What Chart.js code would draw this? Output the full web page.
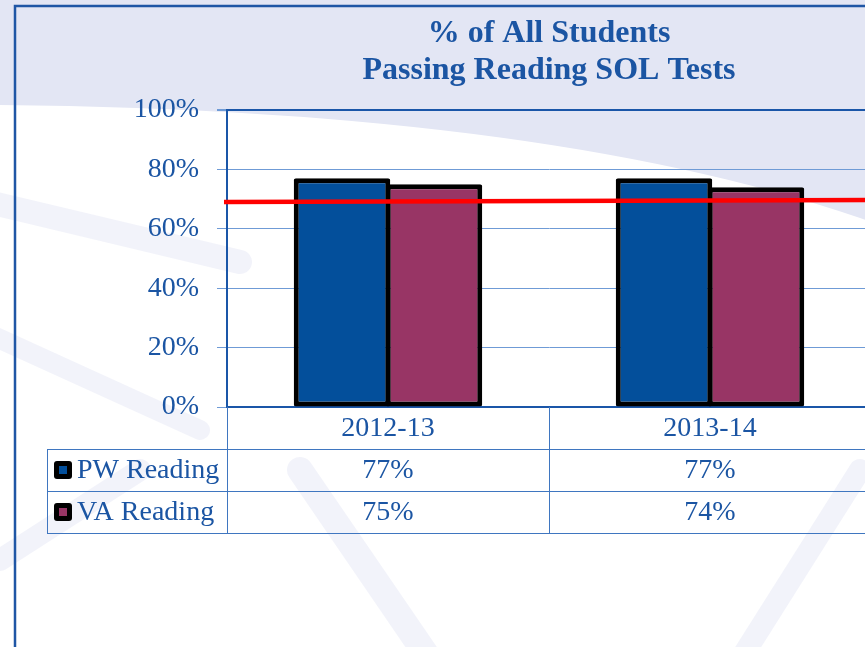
<!DOCTYPE html>
<html>
<head>
<meta charset="utf-8">
<script src="https://cdn.jsdelivr.net/npm/chart.js@4/dist/chart.umd.min.js"></script>
<style>
  html, body { margin: 0; padding: 0; overflow: hidden; background: #fff; }
  #wrap { width: 880px; height: 647px; }
</style>
</head>
<body>
<div id="wrap"><canvas id="chart" width="880" height="647"></canvas></div>
<script>
// 資料
const years = ["2012-13", "2013-14"];
const pwReading = [77, 77];
const vaReading = [75, 74];
const goalLine = [69, 69.7]; // 紅線：左端、右端
const yTicks = [0, 20, 40, 60, 80, 100];
const titleLines = ["% of All Students", "Passing Reading SOL Tests"];

const serif = "'Liberation Serif', 'Times New Roman', serif";
const textBlue = "#1b55a3";
const axisBlue = "#1a56a8";
const gridBlue = "#6f9bd6";
const tableBlue = "#3f76c0";
const barColors = ["#034f9b", "#983565"];

// 背景與外框
const backdrop = {
  id: "backdrop",
  beforeDraw(chart) {
    const { ctx, width, height } = chart;
    ctx.save();
    ctx.fillStyle = "#ffffff";
    ctx.fillRect(0, 0, width, height);

    ctx.fillStyle = "#e3e6f4";
    ctx.beginPath();
    ctx.moveTo(0, 0);
    ctx.lineTo(width, 0);
    ctx.lineTo(width, 225);
    ctx.quadraticCurveTo(560, 110, 0, 105);
    ctx.closePath();
    ctx.fill();

    ctx.strokeStyle = "rgba(226, 229, 243, 0.45)";
    ctx.lineCap = "round";
    const bands = [
      [[-20, 200], [240, 262], 24],
      [[-20, 330], [200, 430], 20],
      [[0, 560], [140, 470], 22],
      [[300, 470], [430, 660], 26],
      [[860, 470], [740, 660], 22],
    ];
    bands.forEach(([a, b, w]) => {
      ctx.lineWidth = w;
      ctx.beginPath();
      ctx.moveTo(a[0], a[1]);
      ctx.lineTo(b[0], b[1]);
      ctx.stroke();
    });

    ctx.strokeStyle = "#1f56a5";
    ctx.lineWidth = 2.5;
    ctx.beginPath();
    ctx.moveTo(15, height);
    ctx.lineTo(15, 6);
    ctx.lineTo(width, 6);
    ctx.stroke();
    ctx.restore();
  },
};

// 紅色目標線
const goal = {
  id: "goal",
  afterDatasetsDraw(chart) {
    const { ctx, chartArea, scales } = chart;
    ctx.save();
    ctx.strokeStyle = "#ff0000";
    ctx.lineWidth = 4.5;
    ctx.beginPath();
    ctx.moveTo(chartArea.left - 3, scales.y.getPixelForValue(goalLine[0]));
    ctx.lineTo(chartArea.right, scales.y.getPixelForValue(goalLine[1]));
    ctx.stroke();
    ctx.restore();
  },
};

// 資料表
const dataTable = {
  id: "dataTable",
  afterDraw(chart) {
    const { ctx, chartArea, scales } = chart;
    const x = scales.x;
    const rowH = 42;
    const top = chartArea.bottom + rowH;
    const sets = chart.data.datasets;
    const bottom = top + rowH * sets.length;
    const tableLeft = 47;

    ctx.save();
    ctx.strokeStyle = tableBlue;
    ctx.lineWidth = 1;
    ctx.beginPath();
    for (let r = 0; r <= sets.length; r++) {
      const y = Math.round(top + r * rowH) + 0.5;
      ctx.moveTo(tableLeft, y);
      ctx.lineTo(chartArea.right, y);
    }
    ctx.moveTo(tableLeft + 0.5, top);
    ctx.lineTo(tableLeft + 0.5, bottom);
    const bounds = [chartArea.left];
    for (let j = 1; j < years.length; j++) {
      bounds.push((x.getPixelForValue(j - 1) + x.getPixelForValue(j)) / 2);
    }
    bounds.push(chartArea.right);
    bounds.forEach((bx) => {
      ctx.moveTo(Math.round(bx) + 0.5, chartArea.bottom);
      ctx.lineTo(Math.round(bx) + 0.5, bottom);
    });
    ctx.stroke();

    ctx.font = "28px " + serif;
    ctx.fillStyle = textBlue;
    ctx.textBaseline = "middle";
    sets.forEach((ds, i) => {
      const cy = top + rowH * (i + 0.5);
      // 圖例小方塊
      ctx.fillStyle = "#000";
      ctx.beginPath();
      ctx.roundRect(54, cy - 9, 18, 18, 3);
      ctx.fill();
      ctx.fillStyle = ds.backgroundColor;
      ctx.fillRect(59, cy - 4, 8, 8);

      ctx.fillStyle = textBlue;
      ctx.textAlign = "left";
      ctx.fillText(ds.label, 77, cy + 1);
      ctx.textAlign = "center";
      ds.data.forEach((v, j) => {
        ctx.fillText(v + "%", x.getPixelForValue(j), cy + 1);
      });
    });
    ctx.restore();
  },
};

const chart = document.querySelector("#chart").getContext("2d");

new Chart(chart, {
  type: "bar",
  data: {
    labels: years,
    datasets: [
      {
        label: "PW Reading",
        data: pwReading,
        backgroundColor: barColors[0],
        borderColor: "#000",
        borderWidth: 5,
        borderSkipped: false,
        borderRadius: 2,
      },
      {
        label: "VA Reading",
        data: vaReading,
        backgroundColor: barColors[1],
        borderColor: "#000",
        borderWidth: 5,
        borderSkipped: false,
        borderRadius: 2,
      },
    ],
  },
  options: {
    responsive: false,
    animation: false,
    categoryPercentage: 0.5714,
    barPercentage: 1.049,
    layout: { padding: { left: 0, right: 9, top: 0, bottom: 0 } },
    plugins: {
      legend: { display: false },
      tooltip: { enabled: false },
      title: {
        display: true,
        fullSize: false,
        text: titleLines,
        color: textBlue,
        font: { family: serif, size: 32, weight: "bold", lineHeight: 1.156 },
        padding: { top: 15, bottom: 21 },
      },
    },
    scales: {
      y: {
        min: 0,
        max: 100,
        afterBuildTicks: (s) => {
          s.ticks = yTicks.map((v) => ({ value: v }));
        },
        afterFit: (s) => {
          s.width = 227;
        },
        ticks: {
          callback: (v) => v + "%",
          font: { family: serif, size: 28 },
          color: textBlue,
          padding: 18,
        },
        grid: {
          color: (c) => (c.tick && c.tick.value === 100 ? axisBlue : gridBlue),
          lineWidth: (c) => (c.tick && c.tick.value === 100 ? 2 : 1),
          tickLength: 10,
          tickColor: gridBlue,
        },
        border: { color: axisBlue, width: 2 },
      },
      x: {
        afterFit: (s) => {
          s.height = 240;
        },
        ticks: {
          font: { family: serif, size: 28 },
          color: textBlue,
          padding: 5,
        },
        grid: { drawOnChartArea: false, drawTicks: false },
        border: { color: axisBlue, width: 2 },
      },
    },
  },
  plugins: [backdrop, goal, dataTable],
});
</script>
</body>
</html>
